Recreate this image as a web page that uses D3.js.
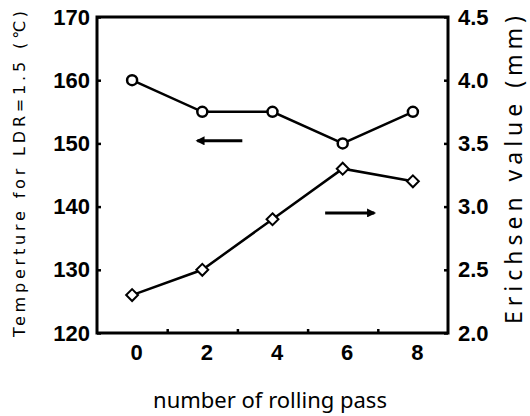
<!DOCTYPE html>
<html>
<head>
<meta charset="utf-8">
<script src="https://cdn.jsdelivr.net/npm/d3@7"></script>
<style>
body { margin: 0; background: #fff; }
svg { display: block; }
</style>
</head>
<body>
<svg id="chart"></svg>
<script>
var width = 530;
var height = 416;

// data
var passes = [0, 2, 4, 6, 8];
var tempLDR = [160, 155, 155, 150, 155];
var erichsen = [2.3, 2.5, 2.9, 3.3, 3.2];

var xLabelTicks = [0, 2, 4, 6, 8];
var xMarkTicks = [1, 3, 5, 7];
var leftTicks = [120, 130, 140, 150, 160, 170];
var rightTicks = [2.0, 2.5, 3.0, 3.5, 4.0, 4.5];

var margin = {left: 97, right: 82, top: 17, bottom: 83};

var svg = d3.select("#chart")
    .attr("width", width)
    .attr("height", height);

var x = d3.scaleLinear()
    .domain([-1, 9])
    .range([margin.left, width - margin.right]);

var yL = d3.scaleLinear()
    .domain([120, 170])
    .range([height - margin.bottom, margin.top]);

var yR = d3.scaleLinear()
    .domain([2.0, 4.5])
    .range([height - margin.bottom, margin.top]);

var tickFont = "'Liberation Sans Narrow', 'Arial Narrow', 'Liberation Sans', sans-serif";

// left axis, ticks pointing inside
var gL = svg.append("g")
    .attr("transform", "translate(" + margin.left + ",0)")
    .call(d3.axisLeft(yL).tickValues(leftTicks).tickSize(-4).tickPadding(7).tickFormat(d3.format("d")));

// right axis
var gR = svg.append("g")
    .attr("transform", "translate(" + (width - margin.right) + ",0)")
    .call(d3.axisRight(yR).tickValues(rightTicks).tickSize(-4).tickPadding(10).tickFormat(d3.format(".1f")));

// bottom axis: labels on even passes, small marks on odd ones
var gB = svg.append("g")
    .attr("transform", "translate(0," + (height - margin.bottom) + ")")
    .call(d3.axisBottom(x).tickValues(xLabelTicks).tickSize(0).tickPadding(11).tickFormat(d3.format("d")));

var gB2 = svg.append("g")
    .attr("transform", "translate(0," + (height - margin.bottom) + ")")
    .call(d3.axisBottom(x).tickValues(xMarkTicks).tickSize(-4).tickFormat(""));

[gL, gR, gB, gB2].forEach(function(g) {
    g.select(".domain").remove();
    g.selectAll(".tick line").attr("stroke", "#000").attr("stroke-width", 2.5);
    g.selectAll(".tick text")
        .attr("fill", "#000")
        .style("font-family", tickFont)
        .style("font-weight", "bold")
        .style("font-size", "22px");
});
gB.selectAll(".tick text").attr("dx", 4);

// frame
svg.append("rect")
    .attr("x", margin.left)
    .attr("y", margin.top)
    .attr("width", width - margin.left - margin.right)
    .attr("height", height - margin.top - margin.bottom)
    .attr("fill", "none")
    .attr("stroke", "#000")
    .attr("stroke-width", 3);

// temperature line (left axis)
var lineL = d3.line()
    .x(function(d, i) { return x(passes[i]); })
    .y(function(d) { return yL(d); });

svg.append("path")
    .datum(tempLDR)
    .attr("d", lineL)
    .attr("fill", "none")
    .attr("stroke", "#000")
    .attr("stroke-width", 2.5);

svg.selectAll(".circ")
    .data(tempLDR)
    .enter()
    .append("circle")
    .attr("class", "circ")
    .attr("cx", function(d, i) { return x(passes[i]); })
    .attr("cy", function(d) { return yL(d); })
    .attr("r", 5)
    .attr("fill", "#fff")
    .attr("stroke", "#000")
    .attr("stroke-width", 2.5);

// erichsen line (right axis)
var lineR = d3.line()
    .x(function(d, i) { return x(passes[i]); })
    .y(function(d) { return yR(d); });

svg.append("path")
    .datum(erichsen)
    .attr("d", lineR)
    .attr("fill", "none")
    .attr("stroke", "#000")
    .attr("stroke-width", 2.5);

svg.selectAll(".diam")
    .data(erichsen)
    .enter()
    .append("path")
    .attr("class", "diam")
    .attr("transform", function(d, i) { return "translate(" + x(passes[i]) + "," + yR(d) + ")"; })
    .attr("d", d3.symbol(d3.symbolDiamond2, 90))
    .attr("fill", "#fff")
    .attr("stroke", "#000")
    .attr("stroke-width", 2);

// arrows pointing to each series' axis
svg.append("defs").append("marker")
    .attr("id", "head")
    .attr("viewBox", "0 0 10 10")
    .attr("refX", 8)
    .attr("refY", 5)
    .attr("markerWidth", 3.5)
    .attr("markerHeight", 3)
    .attr("markerUnits", "strokeWidth")
    .attr("orient", "auto")
    .append("path")
    .attr("d", "M0,0 L10,5 L0,10 Z")
    .attr("fill", "#000");

svg.append("line")
    .attr("x1", x(3.14)).attr("y1", yL(150.4))
    .attr("x2", x(1.86)).attr("y2", yL(150.4))
    .attr("stroke", "#000")
    .attr("stroke-width", 3)
    .attr("marker-end", "url(#head)");

svg.append("line")
    .attr("x1", x(5.5)).attr("y1", yR(2.95))
    .attr("x2", x(6.9)).attr("y2", yR(2.95))
    .attr("stroke", "#000")
    .attr("stroke-width", 3)
    .attr("marker-end", "url(#head)");

// axis titles
svg.append("text")
    .attr("transform", "translate(25,174) rotate(-90)")
    .attr("text-anchor", "middle")
    .attr("textLength", 326)
    .attr("lengthAdjust", "spacing")
    .style("font-family", "'DejaVu Sans', sans-serif")
    .style("font-size", "16px")
    .text("Temperture for LDR=1.5 (℃)");

svg.append("text")
    .attr("transform", "translate(522,170) rotate(-90)")
    .attr("text-anchor", "middle")
    .attr("textLength", 308)
    .attr("lengthAdjust", "spacing")
    .style("font-family", "'Noto Sans', sans-serif")
    .style("font-size", "23px")
    .text("Erichsen value (mm)");

svg.append("text")
    .attr("x", 270)
    .attr("y", 408)
    .attr("text-anchor", "middle")
    .style("font-family", "'Noto Sans', sans-serif")
    .style("font-size", "22px")
    .text("number of rolling pass");
</script>
</body>
</html>
